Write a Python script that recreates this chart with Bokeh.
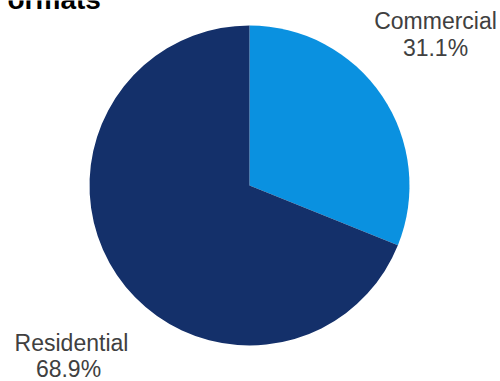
import math
from bokeh.plotting import figure
from bokeh.models import Range1d, ColumnDataSource
from bokeh.core.properties import value
from bokeh.embed import file_html
from bokeh.resources import INLINE

categories = ["Commercial", "Residential"]
shares = [31.1, 68.9]
colors = ["#0A91E0", "#14306A"]
title_text = "ormats"

W, H = 500, 381
p = figure(width=W, height=H, output_backend="svg", toolbar_location=None,
           x_range=Range1d(0, W), y_range=Range1d(0, H), min_border=0)
p.axis.visible = False
p.grid.visible = False
p.outline_line_color = None
p.background_fill_color = "white"
p.border_fill_color = "white"

cx, cy, r = 249, H - 185, 160
total = sum(shares)
starts, ends = [], []
a = math.pi / 2
for s in shares:
    starts.append(a)
    a -= s / total * 2 * math.pi
    ends.append(a)
src = ColumnDataSource(dict(start=starts, end=ends, color=colors))
p.wedge(x=cx, y=cy, radius=r, start_angle="start", end_angle="end",
        direction="clock", fill_color="color", line_color=None, source=src)

# labels
lab_x = [435, 71]
lab_y = [H - 20, H - 342]
pct_x = [435, 68]
pct_y = [H - 47, H - 368]
font = value("Liberation Sans")
p.text(x=lab_x, y=lab_y, text=categories, text_font=font, text_font_size="23px",
       text_color="#404040", text_align="center", text_baseline="alphabetic")
p.text(x=pct_x, y=pct_y, text=[f"{s:.1f}%" for s in shares], text_font=font,
       text_font_size="23px", text_color="#404040", text_align="center",
       text_baseline="alphabetic")

# cropped title
p.text(x=[7], y=[H + 1], text=[title_text], text_font=font, text_font_size="28px",
       text_font_style="bold", text_color="#000000", text_align="left",
       text_baseline="alphabetic")

open("out.html", "w").write(file_html(p, INLINE))
